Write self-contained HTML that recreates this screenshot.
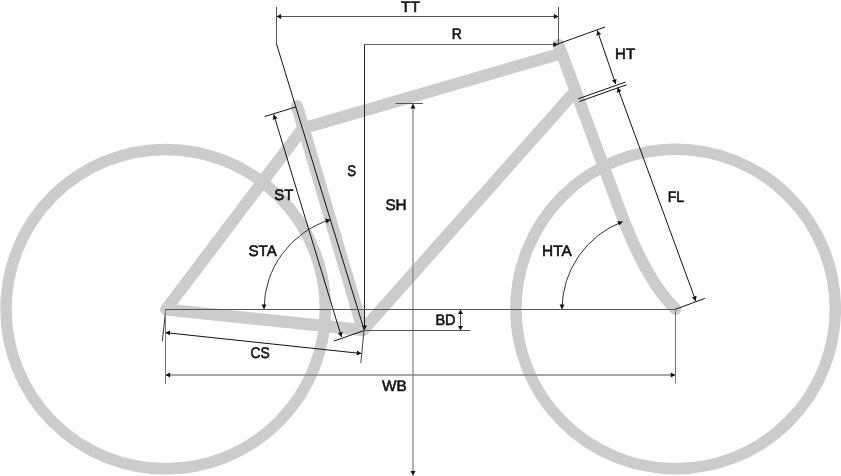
<!DOCTYPE html>
<html><head><meta charset="utf-8"><style>
html,body{margin:0;padding:0;background:#fff;overflow:hidden}
svg{display:block;will-change:transform}
text{font-family:"Liberation Sans",sans-serif;fill:#111;stroke:#111;stroke-width:0.6px}
</style></head><body>
<svg width="841" height="476" viewBox="0 0 841 476">
<circle cx="165.7" cy="309.1" r="159.7" fill="none" stroke="#cccccc" stroke-width="11.5"/>
<circle cx="675.6" cy="309" r="159.7" fill="none" stroke="#cccccc" stroke-width="11.5"/>
<g fill="none" stroke="#cccccc" stroke-width="12" stroke-linecap="round" stroke-linejoin="round">
<path d="M302.5 128.8 L166 309.5 L363 330"/>
<path d="M297 106 L363 330 L575 91.5"/>
<path d="M302.5 128.5 L561 53.4"/>
<path d="M558.6 45 L619.8 210 Q646.1 280.8 675.5 309"/>
</g>
<line x1="276.5" y1="16.5" x2="558.5" y2="16.5" stroke="#555" stroke-width="1"/>
<polygon points="276.50,16.50 281.10,14.00 281.10,19.00" fill="#111"/>
<polygon points="558.50,16.50 553.90,19.00 553.90,14.00" fill="#111"/>
<line x1="276.5" y1="7" x2="276.5" y2="44" stroke="#555" stroke-width="1"/>
<line x1="276.5" y1="43.9" x2="364.2" y2="330" stroke="#111" stroke-width="1"/>
<line x1="558.5" y1="7" x2="558.5" y2="44.5" stroke="#555" stroke-width="1"/>
<line x1="364.5" y1="44.5" x2="558" y2="44.5" stroke="#666" stroke-width="1"/>
<polygon points="558.00,44.50 553.40,47.00 553.40,42.00" fill="#111"/>
<line x1="364.5" y1="44.5" x2="364.5" y2="330" stroke="#222" stroke-width="1"/>
<polygon points="364.50,330.00 362.00,325.40 367.00,325.40" fill="#111"/>
<line x1="555" y1="45" x2="605" y2="27" stroke="#111" stroke-width="1"/>
<line x1="578.3" y1="98.8" x2="625.6" y2="82" stroke="#111" stroke-width="1"/>
<line x1="579.4" y1="101.5" x2="626.7" y2="84.7" stroke="#111" stroke-width="1"/>
<line x1="597.3" y1="30.5" x2="615.7" y2="84.1" stroke="#111" stroke-width="1"/>
<polygon points="597.30,30.50 601.16,34.04 596.43,35.66" fill="#111"/>
<polygon points="615.70,84.10 611.84,80.56 616.57,78.94" fill="#111"/>
<line x1="617.6" y1="87.6" x2="695.8" y2="301" stroke="#111" stroke-width="1"/>
<polygon points="617.60,87.60 621.53,91.06 616.84,92.78" fill="#111"/>
<polygon points="695.80,301.00 691.87,297.54 696.56,295.82" fill="#111"/>
<line x1="675.4" y1="309.3" x2="704.8" y2="298.4" stroke="#111" stroke-width="1"/>
<line x1="413" y1="104" x2="413" y2="475.5" stroke="#888" stroke-width="1.3"/>
<polygon points="413.00,104.00 415.50,108.60 410.50,108.60" fill="#111"/>
<polygon points="413.00,475.50 410.50,470.90 415.50,470.90" fill="#111"/>
<line x1="395.6" y1="103.5" x2="422.9" y2="103.5" stroke="#555" stroke-width="1"/>
<line x1="273.75" y1="114.5" x2="341.5" y2="337" stroke="#111" stroke-width="1"/>
<polygon points="273.75,114.50 277.48,118.17 272.70,119.63" fill="#111"/>
<polygon points="341.50,337.00 337.77,333.33 342.55,331.87" fill="#111"/>
<line x1="264.7" y1="116.5" x2="296" y2="106.9" stroke="#111" stroke-width="1"/>
<line x1="334" y1="341" x2="364.8" y2="330.3" stroke="#111" stroke-width="1"/>
<path d="M264.00 309.10 A94 94 0 0 1 330.40 219.64" fill="none" stroke="#333" stroke-width="1"/>
<polygon points="264.00,309.10 261.52,304.49 266.52,304.51" fill="#111"/>
<polygon points="330.40,219.64 326.73,223.38 325.27,218.60" fill="#111"/>
<path d="M562.00 309.10 A94 94 0 0 1 622.60 221.63" fill="none" stroke="#333" stroke-width="1"/>
<polygon points="562.00,309.10 559.52,304.49 564.52,304.51" fill="#111"/>
<polygon points="622.60,221.63 619.19,225.60 617.41,220.93" fill="#111"/>
<line x1="460.5" y1="309.5" x2="460.5" y2="330.5" stroke="#555" stroke-width="1"/>
<polygon points="460.50,309.50 463.00,314.10 458.00,314.10" fill="#111"/>
<polygon points="460.50,330.50 458.00,325.90 463.00,325.90" fill="#111"/>
<line x1="364" y1="330.5" x2="470.3" y2="330.5" stroke="#555" stroke-width="1"/>
<line x1="165" y1="309.5" x2="675.5" y2="309.5" stroke="#555" stroke-width="1"/>
<line x1="165.3" y1="332.6" x2="361.4" y2="353.5" stroke="#111" stroke-width="1"/>
<polygon points="165.30,332.60 170.14,330.60 169.61,335.57" fill="#111"/>
<polygon points="361.40,353.50 356.56,355.50 357.09,350.53" fill="#111"/>
<line x1="364" y1="330.5" x2="360.8" y2="363" stroke="#444" stroke-width="1"/>
<line x1="165.3" y1="314" x2="162.3" y2="341" stroke="#333" stroke-width="1"/>
<line x1="165.5" y1="375" x2="675.4" y2="375" stroke="#888" stroke-width="1.3"/>
<polygon points="165.50,375.00 170.10,372.50 170.10,377.50" fill="#111"/>
<polygon points="675.40,375.00 670.80,377.50 670.80,372.50" fill="#111"/>
<line x1="165.5" y1="309.5" x2="165.5" y2="383.7" stroke="#777" stroke-width="1"/>
<line x1="675.5" y1="309.5" x2="675.5" y2="383.6" stroke="#777" stroke-width="1"/>
<text transform="translate(410.41 11.53) scale(1.002 1)" text-anchor="middle" font-size="15.3" text-rendering="geometricPrecision">TT</text>
<text transform="translate(456.82 39.08) scale(0.904 1)" text-anchor="middle" font-size="15.3" text-rendering="geometricPrecision">R</text>
<text transform="translate(625.07 58.73) scale(0.978 1)" text-anchor="middle" font-size="15.3" text-rendering="geometricPrecision">HT</text>
<text transform="translate(351.61 176.30) scale(0.859 1)" text-anchor="middle" font-size="15.3" text-rendering="geometricPrecision">S</text>
<text transform="translate(396.00 209.60) scale(1.000 1)" text-anchor="middle" font-size="15.3" text-rendering="geometricPrecision">SH</text>
<text transform="translate(283.87 199.80) scale(0.973 1)" text-anchor="middle" font-size="15.3" text-rendering="geometricPrecision">ST</text>
<text transform="translate(675.82 201.73) scale(0.909 1)" text-anchor="middle" font-size="15.3" text-rendering="geometricPrecision">FL</text>
<text transform="translate(262.66 255.95) scale(0.990 1)" text-anchor="middle" font-size="15.3" text-rendering="geometricPrecision">STA</text>
<text transform="translate(556.89 256.38) scale(1.006 1)" text-anchor="middle" font-size="15.3" text-rendering="geometricPrecision">HTA</text>
<text transform="translate(445.50 325.23) scale(0.950 1)" text-anchor="middle" font-size="15.3" text-rendering="geometricPrecision">BD</text>
<text transform="translate(260.06 358.30) scale(0.906 1)" text-anchor="middle" font-size="15.3" text-rendering="geometricPrecision">CS</text>
<text transform="translate(394.38 391.18) scale(1.001 1)" text-anchor="middle" font-size="15.3" text-rendering="geometricPrecision">WB</text>
</svg>
</body></html>
